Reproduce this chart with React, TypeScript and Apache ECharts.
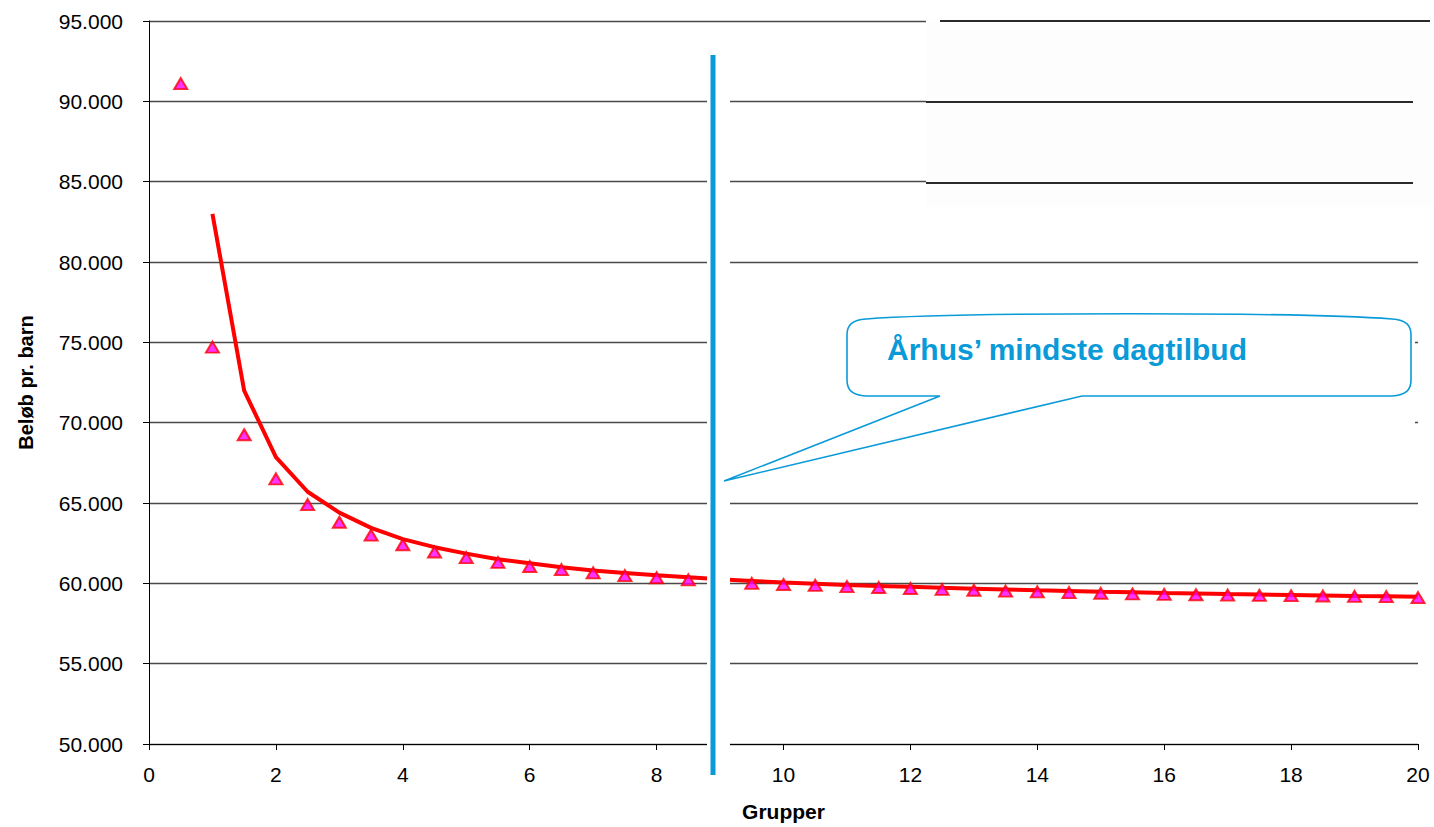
import React, { useEffect, useRef } from "react";
import * as echarts from "echarts";

// Scatter (triangles): groups vs amount per child
const triX = [0.5, 1, 1.5, 2, 2.5, 3, 3.5, 4, 4.5, 5, 5.5, 6, 6.5, 7, 7.5, 8, 8.5, 9, 9.5, 10,
  10.5, 11, 11.5, 12, 12.5, 13, 13.5, 14, 14.5, 15, 15.5, 16, 16.5, 17, 17.5, 18, 18.5, 19, 19.5, 20];
const triValues = [91100, 74700, 69250, 66500, 64900, 63800, 63000, 62400, 61950, 61600, 61300, 61050,
  60850, 60650, 60480, 60350, 60220, 60100, 60000, 59930, 59870, 59800, 59740, 59680, 59620, 59570,
  59520, 59470, 59420, 59380, 59340, 59310, 59290, 59270, 59250, 59230, 59210, 59190, 59170, 59110];

// Red line
const lineX = [1, 1.5, 2, 2.5, 3, 3.5, 4, 4.5, 5, 5.5, 6, 6.5, 7, 7.5, 8, 8.5, 9, 9.5, 10,
  10.5, 11, 11.5, 12, 12.5, 13, 13.5, 14, 14.5, 15, 15.5, 16, 16.5, 17, 17.5, 18, 18.5, 19, 19.5, 20];
const lineValues = [83000, 72000, 67850, 65700, 64400, 63450, 62750, 62250, 61850, 61500, 61250, 61000,
  60800, 60650, 60500, 60380, 60250, 60150, 60050, 59980, 59900, 59840, 59780, 59720, 59670, 59620,
  59570, 59530, 59480, 59440, 59400, 59370, 59330, 59300, 59270, 59240, 59210, 59190, 59160];

const yAxisName = "Beløb pr. barn";
const xAxisName = "Grupper";
const calloutText = "Århus’ mindste dagtilbud";

const FONT = "'Liberation Sans', Arial, Helvetica, sans-serif";
const BLUE = "#0a9ad8";

const calloutPath =
  "M 866 319 C 960 312 1300 312 1392 319 C 1406 320 1411 325 1411 335 L 1411 380 " +
  "C 1411 390 1406 395 1392 396 L 1082 396 L 724 481 L 940 396 L 866 396 " +
  "C 852 395 847 390 847 380 L 847 335 C 847 325 852 320 866 319 Z";

let registered = false;

function fmt(v: number): string {
  const t = Math.floor(v / 1000);
  const r = Math.round(v % 1000);
  return t + "." + String(r).padStart(3, "0");
}

export default function App() {
  const ref = useRef<HTMLDivElement>(null);
  useEffect(() => {
    if (!ref.current) return;
    if (!registered) {
      echarts.graphic.registerShape("callout", echarts.graphic.extendPath(calloutPath, {}));
      registered = true;
    }
    const chart = echarts.init(ref.current, null, { renderer: "svg" });
    chart.setOption({
      animation: false,
      backgroundColor: "#ffffff",
      grid: { left: 149, right: 16, top: 21, bottom: 79, containLabel: false },
      xAxis: {
        type: "value",
        min: 0,
        max: 20,
        interval: 2,
        name: xAxisName,
        nameLocation: "middle",
        nameGap: 57,
        nameTextStyle: { fontFamily: FONT, fontWeight: "bold", fontSize: 21, color: "#000" },
        axisLine: { show: true, onZero: false, lineStyle: { color: "#000", width: 1 } },
        axisTick: { show: true, length: 6, lineStyle: { color: "#000" } },
        axisLabel: { fontFamily: FONT, fontSize: 21, color: "#000", margin: 20 },
        splitLine: { show: false },
      },
      yAxis: {
        type: "value",
        min: 50000,
        max: 95000,
        interval: 5000,
        name: yAxisName,
        nameLocation: "middle",
        nameRotate: 90,
        nameGap: 113,
        nameTextStyle: { fontFamily: FONT, fontWeight: "bold", fontSize: 20, color: "#000" },
        axisLine: { show: true, lineStyle: { color: "#000", width: 1 } },
        axisTick: { show: true, length: 6, lineStyle: { color: "#000" } },
        axisLabel: { fontFamily: FONT, fontSize: 21, color: "#000", margin: 26, formatter: (v: number) => fmt(v) },
        splitLine: { show: true, lineStyle: { color: "#4a4a4a", width: 1.3 } },
      },
      series: [
        {
          type: "line",
          data: lineX.map((x, i) => [x, lineValues[i]]),
          showSymbol: false,
          symbol: "none",
          lineStyle: { color: "#ff0000", width: 4 },
          z: 3,
        },
        {
          type: "scatter",
          data: triX.map((x, i) => [x, triValues[i]]),
          symbol: "triangle",
          symbolSize: [13, 11],
          itemStyle: { color: "#ff00ff", borderColor: "#ff0000", borderWidth: 2 },
          z: 4,
        },
      ],
      graphic: [
        // faint box in the top right
        { type: "rect", z: 50, shape: { x: 926, y: 19, width: 508, height: 188 }, style: { fill: "#fdfdfd" } },
        { type: "line", z: 51, shape: { x1: 940, y1: 21, x2: 1430, y2: 21 }, style: { stroke: "#2a2a2a", lineWidth: 2 } },
        { type: "line", z: 51, shape: { x1: 926, y1: 102, x2: 1413, y2: 102 }, style: { stroke: "#2a2a2a", lineWidth: 2 } },
        { type: "line", z: 51, shape: { x1: 926, y1: 183, x2: 1413, y2: 183 }, style: { stroke: "#2a2a2a", lineWidth: 2 } },
        // white band behind the vertical marker
        { type: "rect", z: 50, shape: { x: 707, y: 30, width: 23, height: 730 }, style: { fill: "#ffffff" } },
        // white area behind the callout
        { type: "rect", z: 50, shape: { x: 730, y: 282, width: 685, height: 206 }, style: { fill: "#ffffff" } },
        // vertical blue marker
        { type: "line", z: 60, shape: { x1: 713, y1: 55, x2: 713, y2: 775 }, style: { stroke: BLUE, lineWidth: 5 } },
        // callout
        { type: "callout", z: 60, x: 0, y: 0, style: { fill: "#ffffff", stroke: BLUE, lineWidth: 1.6 } },
        {
          type: "text",
          z: 61,
          x: 887,
          y: 349,
          style: {
            text: calloutText,
            fill: BLUE,
            font: "bold 30px " + FONT,
            textAlign: "left",
            textVerticalAlign: "middle",
          },
        },
      ],
    });
    return () => chart.dispose();
  }, []);
  return (
    <div
      ref={ref}
      style={{ position: "absolute", left: 0, top: 0, width: 1434, height: 827, background: "#fff" }}
    />
  );
}
